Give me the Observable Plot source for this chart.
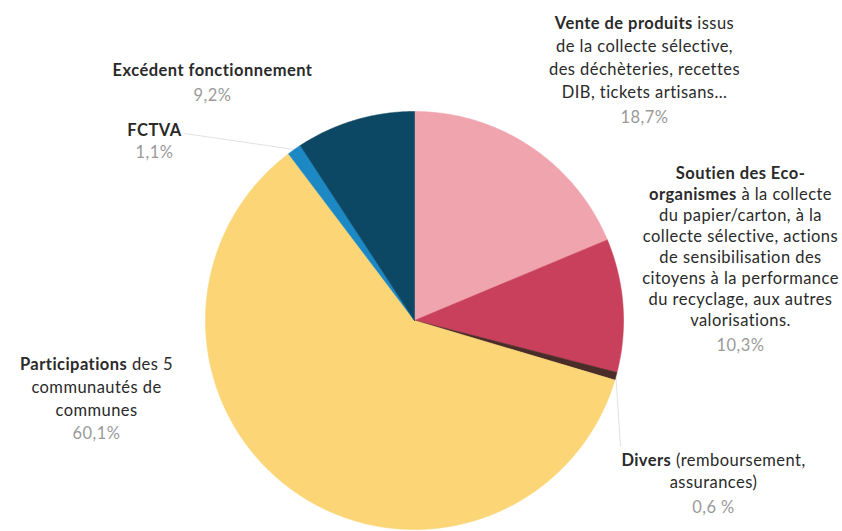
<!DOCTYPE html>
<html>
<head>
<meta charset="utf-8">
<script src="https://cdn.jsdelivr.net/npm/d3@7"></script>
<script src="https://cdn.jsdelivr.net/npm/@observablehq/plot@0.6"></script>
<style>
  body { margin: 0; background: #fff; }
  #chart svg { display: block; }
  #chart svg text { letter-spacing: 0.45px; }
</style>
</head>
<body>
<div id="chart"></div>
<script>
// ---------------- data ----------------
const categories = ["Vente de produits", "Soutien des Eco-organismes", "Divers", "Participations", "FCTVA", "Excédent fonctionnement"];
const values = [18.7, 10.3, 0.6, 60.1, 1.1, 9.2];
const valueLabels = ["18,7%", "10,3%", "0,6 %", "60,1%", "1,1%", "9,2%"];
const labelLines = [
  ["Vente de produits issus", "de la collecte sélective,", "des déchèteries, recettes", "DIB, tickets artisans…"],
  ["Soutien des Eco-", "organismes à la collecte", "du papier/carton, à la", "collecte sélective, actions", "de sensibilisation des", "citoyens à la performance", "du recyclage, aux autres", "valorisations."],
  ["Divers (remboursement,", "assurances)"],
  ["Participations des 5", "communautés de", "communes"],
  ["FCTVA"],
  ["Excédent fonctionnement"]
];
const boldParts = ["Excédent fonctionnement", "Vente de produits", "Soutien des Eco-", "organismes", "Participations", "Divers", "FCTVA"];
const colors = ["#f0a4ae", "#c8405b", "#4a2c28", "#fcd577", "#1c88c4", "#0c4763"];

// ---------------- layout (pixels) ----------------
const W = 842, H = 531;
const CX = 414, CY = 320, R = 209;
// label anchors: x centre, first-line y, line spacing, value y
const labelLayout = [
  {x: 644, y: 23, dy: 23, vy: 117},
  {x: 740, y: 173, dy: 21, vy: 345},
  {x: 713, y: 460, dy: 22, vy: 507},
  {x: 96, y: 364, dy: 23, vy: 433},
  {x: 154, y: 130, dy: 0, vy: 152},
  {x: 212, y: 70, dy: 0, vy: 95}
];
const leaderEnds = {2: {x: 620, y: 446}, 4: {x: 184, y: 133}};
const FONT = "Lato, 'Open Sans', sans-serif";
const FS = 16.5;

// unit coordinates: pie centre at (0,0), radius 1
const ux = px => (px - CX) / R;
const uy = py => (CY - py) / R;

// ---------------- slices ----------------
const arcs = d3.pie().sort(null).value(d => d)(values);
const slicePts = [];
arcs.forEach((a, i) => {
  slicePts.push({k: i, x: 0, y: 0, c: colors[i]});
  const n = Math.max(4, Math.ceil((a.endAngle - a.startAngle) / 0.005));
  for (let j = 0; j <= n; j++) {
    const t = a.startAngle + (a.endAngle - a.startAngle) * j / n;
    slicePts.push({k: i, x: Math.sin(t), y: Math.cos(t), c: colors[i]});
  }
  slicePts.push({k: i, x: 0, y: 0, c: colors[i]});
});

// ---------------- labels ----------------
const lineRows = [];
labelLines.forEach((lines, i) => {
  const L = labelLayout[i];
  lines.forEach((t, j) => lineRows.push({t, x: ux(L.x), y: uy(L.y + j * L.dy)}));
});
const valueRows = valueLabels.map((t, i) => ({t, x: ux(labelLayout[i].x), y: uy(labelLayout[i].vy)}));

const leaders = Object.entries(leaderEnds).map(([i, e]) => {
  const a = arcs[+i];
  const m = (a.startAngle + a.endAngle) / 2;
  return {x1: Math.sin(m) * 1.0, y1: Math.cos(m) * 1.0, x2: ux(e.x), y2: uy(e.y)};
});

const chart = Plot.plot({
  width: W,
  height: H,
  margin: 0,
  x: {domain: [ux(0), ux(W)], range: [0, W], axis: null},
  y: {domain: [uy(H), uy(0)], range: [H, 0], axis: null},
  style: {fontFamily: FONT, background: "#fff"},
  marks: [
    Plot.link(leaders, {x1: "x1", y1: "y1", x2: "x2", y2: "y2", stroke: "#e2e2e2", strokeWidth: 1}),
    Plot.line(slicePts, {x: "x", y: "y", z: "k", fill: "c", stroke: "c", strokeWidth: 0.6, curve: "linear"}),
    Plot.text(lineRows, {x: "x", y: "y", text: "t", fontSize: FS, fill: "#2a2a2a", textAnchor: "middle", lineAnchor: "middle"}),
    Plot.text(valueRows, {x: "x", y: "y", text: "t", fontSize: FS, fill: "#9a9a9a", textAnchor: "middle", lineAnchor: "middle"})
  ]
});

// rich text: bold prefixes
d3.select(chart).selectAll("text").each(function () {
  const txt = this.textContent;
  const b = boldParts.find(p => txt.startsWith(p));
  if (!b) return;
  const el = d3.select(this);
  el.text(null);
  el.append("tspan").attr("font-weight", "bold").text(b);
  const rest = txt.slice(b.length);
  if (rest) el.append("tspan").text(rest);
});

document.getElementById("chart").appendChild(chart);
</script>
</body>
</html>
